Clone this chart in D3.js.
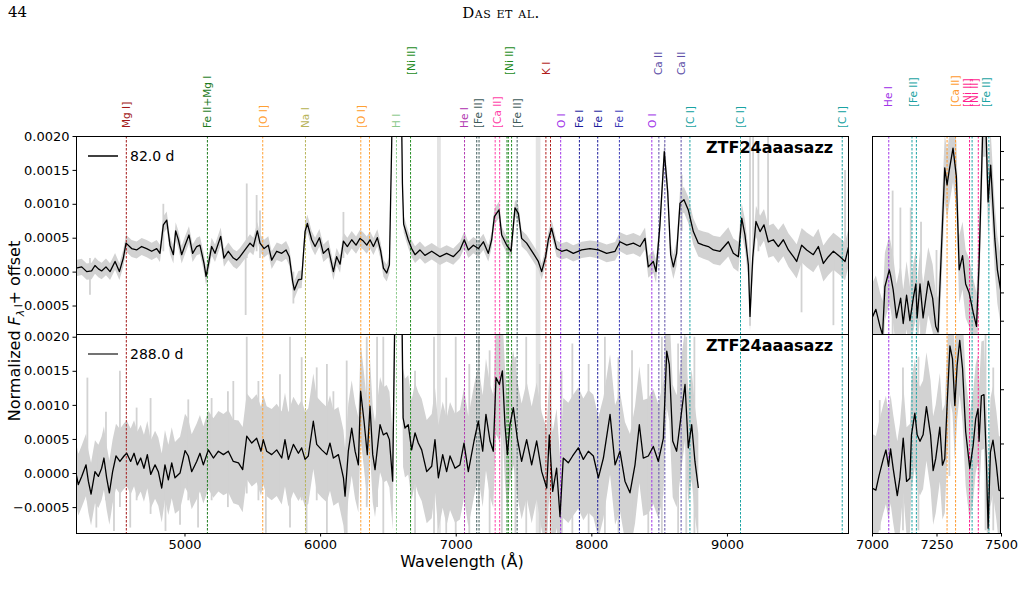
<!DOCTYPE html>
<html>
<head>
<meta charset="utf-8">
<script src="https://cdn.jsdelivr.net/npm/d3@7"></script>
<style>
  body { margin: 0; background: #fff; }
  text { font-family: "DejaVu Sans", sans-serif; }
</style>
</head>
<body>
<div id="chart"></div>
<script>
// ---- Data ----
// smoothed spectrum, 82.0 d  [wavelength (A), normalized flux]
const spec82 = [
  [4200,0.00005],[4242,0.00007],[4279,0.0],[4315,0.00001],[4340,0.00009],[4365,0.00004],[4389,0.00001],
  [4421,0.00007],[4451,0.0],[4488,0.00015],[4520,0.0],[4549,0.0002],[4569,0.00042],[4610,0.00034],
  [4647,0.00032],[4684,0.00037],[4721,0.00034],[4758,0.0003],[4795,0.00034],[4819,0.00027],[4844,0.00069],
  [4869,0.00076],[4893,0.00039],[4918,0.00025],[4935,0.0006],[4955,0.00047],[4979,0.00025],[5004,0.00039],
  [5033,0.00054],[5060,0.00027],[5090,0.00037],[5114,0.00039],[5144,0.00012],[5159,-0.00007],[5176,0.0001],
  [5200,0.00037],[5225,0.00027],[5267,0.00052],[5291,0.0002],[5323,0.0003],[5360,0.0002],[5385,0.00017],
  [5409,0.00022],[5446,0.00032],[5483,0.00042],[5508,0.00037],[5537,0.0006],[5557,0.00042],[5587,0.00034],
  [5618,0.00039],[5643,0.00017],[5680,0.0003],[5717,0.00027],[5749,0.00032],[5773,0.00022],[5798,-0.00015],
  [5810,-0.00027],[5840,-0.00012],[5864,-0.00011],[5889,0.00059],[5906,0.00071],[5938,0.00047],[5963,0.00037],
  [5995,0.0005],[6024,0.00027],[6061,0.00034],[6098,0.0],[6122,0.00022],[6147,0.00011],[6172,0.00045],
  [6201,0.00037],[6233,0.00047],[6265,0.00039],[6294,0.00049],[6319,0.00045],[6344,0.00039],[6368,0.00047],
  [6393,0.00037],[6422,0.0005],[6447,0.0003],[6467,0.00005],[6491,-0.00002],[6511,0.0001],[6528,0.0019],
  [6545,0.0045],[6563,0.0055],[6585,0.004],[6602,0.0021],[6607,0.0013],[6616,0.0007],[6650,0.00047],
  [6675,0.00034],[6700,0.00025],[6736,0.00032],[6773,0.00024],[6823,0.0003],[6884,0.00022],[6933,0.00027],
  [6982,0.00022],[7031,0.00032],[7063,0.00047],[7093,0.00032],[7130,0.00039],[7167,0.00034],[7204,0.00044],
  [7240,0.00027],[7265,0.00047],[7285,0.00081],[7319,0.00091],[7339,0.00054],[7376,0.00039],[7408,0.0003],
  [7437,0.00094],[7462,0.00086],[7486,0.00049],[7523,0.00042],[7572,0.00027],[7609,0.00015],[7634,0.0],
  [7663,0.00022],[7683,0.00047],[7707,0.00064],[7744,0.00034],[7781,0.0003],[7818,0.00032],[7867,0.00027],
  [7929,0.00032],[7990,0.00034],[8052,0.00032],[8113,0.00027],[8175,0.0003],[8211,0.00044],[8261,0.00039],
  [8310,0.00042],[8359,0.00037],[8396,0.00049],[8420,0.00007],[8457,0.00015],[8477,0.0],[8506,0.00069],
  [8538,0.00177],[8563,0.00118],[8585,0.00025],[8605,0.00007],[8629,0.00027],[8654,0.00101],[8683,0.00106],
  [8715,0.00091],[8752,0.00059],[8789,0.00042],[8826,0.00039],[8863,0.00037],[8900,0.00032],[8949,0.0003],
  [9010,0.00044],[9047,0.00027],[9084,0.00022],[9109,0.00079],[9133,0.00054],[9158,0.0001],[9170,-0.00066],
  [9190,0.0002],[9214,0.00074],[9244,0.00059],[9273,0.00069],[9305,0.00044],[9342,0.00047],[9379,0.00037],
  [9416,0.00047],[9453,0.00032],[9490,0.00022],[9514,0.00015],[9551,0.00039],[9588,0.00032],[9637,0.00025],
  [9674,0.00037],[9711,0.00012],[9748,0.00022],[9785,0.0003],[9834,0.00022],[9871,0.00015],[9900,0.00039]
]

// smoothed spectrum, 288.0 d
const spec288 = [
  [4200,0],[4217,-0.00017],[4242,-0.00005],[4274,0.00012],[4291,-0.00012],[4311,-0.00031],[4340,0.00002],
  [4365,-0.00005],[4389,0.00007],[4406,0.00022],[4426,-0.00007],[4446,-0.00029],[4470,0.00002],[4495,0.00025],
  [4524,0.00017],[4554,0.00025],[4574,0.00029],[4603,0.00017],[4628,0.00029],[4652,0.00012],[4677,0.00022],
  [4701,0.00007],[4726,0.00027],[4751,-0.00002],[4783,0.00012],[4807,0.00002],[4832,-0.00022],[4856,0.00012],
  [4881,-0.0001],[4906,0.00015],[4930,-0.00007],[4967,0],[5004,0.00033],[5028,0.00025],[5053,0.00002],
  [5090,0.00017],[5114,0.00029],[5139,0.00012],[5176,0.00034],[5213,0.00022],[5250,0.00032],[5287,0.00027],
  [5323,0.00032],[5360,0.00017],[5398,0.00015],[5429,0.00005],[5459,0.00054],[5496,0.00044],[5532,0.00051],
  [5564,0.00032],[5581,0.00049],[5606,0.00032],[5643,0.00027],[5680,0.00034],[5717,0.00022],[5741,0.00049],
  [5766,0.0002],[5803,0.00042],[5840,0.00029],[5864,0.00037],[5889,0.0002],[5913,0.00025],[5950,0.00076],
  [5975,0.00042],[6012,0.00034],[6049,0.00027],[6073,0.00044],[6098,0.00022],[6135,0.00027],[6172,-0.00007],
  [6184,-0.00034],[6208,0.00032],[6233,0.00066],[6258,0.00032],[6282,0.00012],[6299,0.0012],[6324,0.00076],
  [6348,0.00027],[6368,0.00098],[6388,0.00027],[6405,0.00005],[6442,0.00071],[6466,0.00056],[6491,0.00059],
  [6511,0.00049],[6535,-0.00012],[6552,0.0025],[6570,0.005],[6590,0.0035],[6605,0.0021],[6612,0.00081],
  [6626,0.00066],[6650,0.00071],[6675,0.00034],[6700,0.00059],[6724,0.00044],[6749,0.00034],[6786,0.00002],
  [6823,0.0001],[6847,0.00049],[6872,-0.00007],[6904,0.00027],[6933,0.00002],[6958,0.00025],[6995,0.00007],
  [7031,0.00012],[7061,0.00044],[7093,0.00002],[7135,0.00047],[7167,0.00076],[7199,0.00032],[7223,0.00086],
  [7253,0.00047],[7277,0.00032],[7297,0.0014],[7322,0.0013],[7344,0.0015],[7363,0.00071],[7381,0.00027],
  [7400,0.00071],[7425,0.00096],[7454,0.00051],[7486,0.00017],[7523,0.00049],[7560,0.00012],[7597,0.00047],
  [7634,0.00002],[7671,-0.00022],[7690,0.00056],[7715,-0.00027],[7744,0.00007],[7769,-0.00064],[7793,0.00022],
  [7830,0.00015],[7862,0.00025],[7904,0.00037],[7941,0.0002],[7978,0.00032],[8015,0.00025],[8052,-0.00007],
  [8089,0.00022],[8138,0.00086],[8175,0.00012],[8211,0.00032],[8248,-0.00012],[8285,-0.00029],[8322,0.00012],
  [8354,0.00071],[8383,0.00022],[8420,0.00025],[8457,0.00039],[8494,0.00017],[8531,0.00051],[8556,0.00179],
  [8575,0.00159],[8600,0.00047],[8629,0.00032],[8666,0.00091],[8691,0.0013],[8715,0.00037],[8740,0.00071],
  [8764,0.00017],[8789,-0.00022]
]

// zoomed-in 7000-7500 A views (own flux scales)
const zoom82 = [
  [7000,0.00021],[7015,0.00024],[7031,0.00018],[7041,0.00015],[7050,0.00032],[7067,0.00038],[7072,0.00036],
  [7082,0.00031],[7095,0.00021],[7111,0.00028],[7121,0.00019],[7134,0.00029],[7147,0.0002],[7160,0.00028],
  [7170,0.00033],[7175,0.00021],[7186,0.00033],[7198,0.00021],[7218,0.00034],[7235,0.00028],[7247,0.00018],
  [7256,0.00016],[7282,0.00074],[7291,0.00068],[7299,0.00073],[7314,0.00081],[7327,0.00071],[7338,0.00038],
  [7351,0.00043],[7363,0.00033],[7376,0.0003],[7392,0.00023],[7405,0.00018],[7415,0.0004],[7430,0.0009],
  [7441,0.0009],[7450,0.00062],[7460,0.00075],[7476,0.00049],[7486,0.00038],[7500,0.0003]
]
const zoom288 = [
  [7000,0.00009],[7015,0.00007],[7028,0.00021],[7044,0.00036],[7054,0.00044],[7064,0.00029],[7072,0.00045],
  [7082,0.00027],[7098,0.00002],[7108,0.00018],[7121,0.00055],[7134,0.00015],[7147,0.00018],[7153,0.00058],
  [7166,0.00078],[7175,0.00058],[7186,0.00052],[7198,0.00058],[7211,0.00084],[7227,0.00058],[7237,0.00025],
  [7247,0.00036],[7263,0.00065],[7273,0.0003],[7282,0.00036],[7291,0.00085],[7302,0.0014],[7312,0.00128],
  [7321,0.00085],[7330,0.00122],[7340,0.00145],[7351,0.00119],[7363,0.00061],[7379,0.00027],[7392,0.00048],
  [7402,0.00073],[7411,0.00082],[7415,0.00052],[7424,0.00094],[7434,0.00095],[7443,0.00036],[7450,-0.00028],
  [7459,0.00042],[7469,0.00053],[7482,0.0003],[7492,0.00007],[7500,0.00006]
]

// scatter of the raw (unsmoothed) spectra around the smoothed one
const noiseWave82 = [4200, 5000, 6000, 7000, 8000, 8800, 9900]
const noiseAmp82 = [0.00012, 0.00013, 0.00013, 0.00012, 0.00012, 0.0002, 0.00028]
const noiseWave288 = [4200, 4800, 5400, 5800, 6500, 7000, 8000, 8800]
const noiseAmp288 = [0.00045, 0.0005, 0.00062, 0.0007, 0.0007, 0.0008, 0.0009, 0.0008]
const noiseWaveZoom = [7000, 7500]
const noiseAmpZoom82 = [0.00012, 0.00012]
const noiseAmpZoom288 = [0.0005, 0.0005]

// strongest raw-data spikes [wavelength, low, high]
const spikes82 = [
  [4303,-0.00034,0.0002],[4844,0.0003,0.001],[5451,-0.00064,0.0004],[5459,0.0002,0.0013],[5532,0.0003,0.00113],
  [5557,0.0002,0.0009],[5803,-0.00047,0],[6172,0.0002,0.00088],[8666,0.0006,0.00143],[9170,-0.0008,0.002],
  [9193,0.0003,0.002],[9232,0.0003,0.00177],[9303,0.0003,0.002],[9550,-0.0006,0.0003],[9785,-0.00079,0.0003],
  [9871,0.0001,0.0015]
]
const spikes288 = [
  [4284,-0.0004,0.0014],[4350,-0.0008,0.0003],[4421,-0.0004,0.0009],[4480,-0.00085,0.0002],[4524,-0.0005,0.0015],
  [4600,-0.0008,0.0003],[4647,-0.0004,0.00096],[4750,-0.0006,0.0011],[4860,-0.00085,0.0002],[4967,-0.00076,0.0003],
  [5028,-0.0004,0.00108],[5100,-0.0008,0.0003],[5200,-0.0004,0.0011],[5320,-0.0005,0.0012],[5360,-0.0004,0.00135],
  [5459,-0.0003,0.002],[5545,-0.0004,0.00135],[5600,-0.00088,0.0003],[5704,-0.0004,0.00145],[5778,-0.0008,0.002],
  [5864,-0.0004,0.0017],[5900,-0.00088,0.0002],[5975,-0.0004,0.00155],[6050,-0.0009,0.0016],[6098,-0.0004,0.0012],
  [6196,-0.0009,0.00165],[6344,-0.0005,0.002],[6420,-0.0005,0.002],[6466,-0.0009,0.002],[6700,-0.0009,0.0015],
  [6840,-0.0009,0.002],[6930,-0.0009,0.0014],[7000,-0.0009,0.002],[7100,-0.0009,0.0016],[7170,-0.0005,0.002],
  [7250,-0.0009,0.0018],[7340,-0.0009,0.002],[7440,-0.0009,0.0017],[7520,-0.0009,0.002],[7620,-0.0009,0.0016],
  [7700,-0.0009,0.002],[7780,-0.0009,0.0015],[7860,-0.0009,0.0019],[7980,-0.0009,0.0016],[8100,-0.0009,0.002],
  [8200,-0.0009,0.0017],[8300,-0.0009,0.0018],[8420,-0.0009,0.0016],[8520,-0.0009,0.002],[8640,-0.0009,0.0019],
  [8700,-0.0009,0.002],[8760,-0.0009,0.002]
]
const spikesZoom82 = [[7080,0.00015,0.00066],[7110,0.00015,0.0006],[7150,0.00015,0.0006],[7190,0.00015,0.00055],[7250,0.00015,0.00045]]
const spikesZoom288 = [[7030,-0.0003,0.0009],[7120,-0.0003,0.0012],[7180,-0.0003,0.0013],[7300,0.0002,0.0016],[7440,-0.0003,0.0015],[7470,-0.0003,0.0012]]

// telluric absorption bands [start, end]
const telluric = [[6862, 6890], [7590, 7625]]

// line identifications: [species, wavelength]
const mainLines = [
  ["MgI",4571],["FeMg",5169],["OIf",5577],["NaI",5892],["OIf",6300],["OIf",6364],["HI",6563],["NiII",6667],
  ["HeI",7065],["FeII",7155],["FeII",7172],["CaIIf",7291],["CaIIf",7324],["NiII",7378],["NiII",7388],["NiII",7412],
  ["FeII",7453],["KI",7665],["KI",7699],["OI",7774],["FeI",7912],["FeI",8047],["FeI2",8207],["OI",8446],
  ["CaII",8498],["CaII",8542],["CaII",8662],["CI",8727],["CI",9100],["CI",9850]
]
const mainLabels = [
  ["Mg I]","MgI",4571,0],["Fe II+Mg I","FeMg",5169,0],["[O I]","OIf",5577,0],["Na I","NaI",5892,0],
  ["[O I]","OIf",6300,0],["H I","HI",6563,0],["[Ni II]","NiII",6667,1],["He I","HeI",7058,0],
  ["[Fe II]","FeII",7163,0],["[Ca II]","CaIIf",7305,0],["[Ni II]","NiII",7395,1],["[Fe II]","FeII",7453,0],
  ["K I","KI",7665,1],["O I","OI",7777,0],["Fe I","FeI",7910,0],["Fe I","FeI",8050,0],["Fe I","FeI2",8205,0],
  ["O I","OI",8448,0],["Ca II","CaII",8492,1],["Ca II","CaII",8662,1],["[C I]","CI",8728,0],
  ["[C I]","CI",9098,0],["[C I]","CI",9852,0]
]
const zoomLines = [
  ["HeIz",7065],["FeIIz",7155],["FeIIz",7172],["CaIIz",7291],["CaIIz",7324],["NiIIz",7378],["FeIIz",7388],
  ["NiIIz",7412],["FeIIz",7453]
]
const zoomLabels = [
  ["He I","HeIz",7063],["[Fe II]","FeIIz",7160],["[Ca II]","CaIIz",7322],["[Ni II]","NiIIz",7370],
  ["[Ni II]","NiIIz",7397],["[Fe II]","FeIIz",7443]
]

const epochs = ["82.0 d", "288.0 d"]
const objectName = "ZTF24aaasazz"

// ---- Styles ----
const speciesColor = {
  MgI: "#a31818", FeMg: "#1e7b1e", OIf: "#ffa033", NaI: "#b8b45a", HI: "#8cc98c", NiII: "#228b22",
  HeI: "#b23ab2", FeII: "#3d5a5a", CaIIf: "#ff3fa8", KI: "#b01c1c", OI: "#a235e8", FeI: "#1c1c9c",
  FeI2: "#3a3ab8", CaII: "#5e4fa8", CI: "#1aa3a3",
  HeIz: "#a235e8", FeIIz: "#1aa3a3", CaIIz: "#ff9a2e", NiIIz: "#ff1f8f"
}

// ---- Layout ----
const width = 1024
const height = 601
const mainX = {left: 76, right: 849}
const sideX = {left: 872, right: 1001}
const rowY = {top: 136, mid: 334, bottom: 533}
const labelBase = [128, 75]
const sideLabelBase = 107

const svg = d3.select("#chart")
  .append("svg")
    .attr("width", width)
    .attr("height", height)
    .style("display", "block")

// Header
svg.append("text")
  .attr("x", 8).attr("y", 17)
  .style("font-family", "'DejaVu Serif', serif")
  .style("font-size", "15px")
  .text("44")
svg.append("text")
  .attr("x", 501).attr("y", 18)
  .attr("text-anchor", "middle")
  .style("font-family", "'DejaVu Serif', serif")
  .style("font-size", "15px")
  .style("font-variant", "small-caps")
  .style("letter-spacing", "0.5px")
  .text("Das et al.")

// Scales
const xMain = d3.scaleLinear().domain([4200, 9900]).range([mainX.left, mainX.right])
const xSide = d3.scaleLinear().domain([7000, 7500]).range([sideX.left, sideX.right])
const yTop = d3.scaleLinear().domain([-0.00092, 0.002]).range([rowY.mid, rowY.top])
const yBot = d3.scaleLinear().domain([-0.00088, 0.00204]).range([rowY.bottom, rowY.mid])
const ySideTop = d3.scaleLinear().domain([0.000153, 0.000853]).range([rowY.mid, rowY.top])
const ySideBot = d3.scaleLinear().domain([-0.000325, 0.001509]).range([rowY.bottom, rowY.mid])

const panels = [
  {id: "mt", x: xMain, y: yTop, spec: spec82, nw: noiseWave82, na: noiseAmp82, spikes: spikes82},
  {id: "mb", x: xMain, y: yBot, spec: spec288, nw: noiseWave288, na: noiseAmp288, spikes: spikes288},
  {id: "st", x: xSide, y: ySideTop, spec: zoom82, nw: noiseWaveZoom, na: noiseAmpZoom82, spikes: spikesZoom82},
  {id: "sb", x: xSide, y: ySideBot, spec: zoom288, nw: noiseWaveZoom, na: noiseAmpZoom288, spikes: spikesZoom288},
]

const defs = svg.append("defs")
panels.forEach(p => {
  const [x0, x1] = p.x.range()
  const [y0, y1] = p.y.range()
  defs.append("clipPath").attr("id", "clip-" + p.id)
    .append("rect")
      .attr("x", x0).attr("y", y1)
      .attr("width", x1 - x0).attr("height", y0 - y1)
})
defs.append("clipPath").attr("id", "clip-main")
  .append("rect").attr("x", mainX.left).attr("y", rowY.top)
  .attr("width", mainX.right - mainX.left).attr("height", rowY.bottom - rowY.top)
defs.append("clipPath").attr("id", "clip-side")
  .append("rect").attr("x", sideX.left).attr("y", rowY.top)
  .attr("width", sideX.right - sideX.left).attr("height", rowY.bottom - rowY.top)

// Telluric bands
svg.append("g")
  .attr("clip-path", "url(#clip-main)")
  .selectAll("rect")
  .data(telluric)
  .join("rect")
    .attr("x", d => xMain(d[0]))
    .attr("width", d => xMain(d[1]) - xMain(d[0]))
    .attr("y", rowY.top)
    .attr("height", rowY.bottom - rowY.top)
    .attr("fill", "#e3e3e3")

// Raw data scatter (grey)
const grey = "#d2d2d2"
panels.forEach(p => {
  const noise = d3.scaleLinear().domain(p.nw).range(p.na).clamp(true)
  const g = svg.append("g").attr("clip-path", `url(#clip-${p.id})`)
  const area = d3.area()
    .x(d => p.x(d[0]))
    .y0(d => p.y(d[1] - noise(d[0])))
    .y1(d => p.y(d[1] + noise(d[0])))
  g.append("path")
    .attr("d", area(p.spec))
    .attr("fill", grey)
  g.selectAll("line")
    .data(p.spikes)
    .join("line")
      .attr("x1", d => p.x(d[0])).attr("x2", d => p.x(d[0]))
      .attr("y1", d => p.y(d[1])).attr("y2", d => p.y(d[2]))
      .attr("stroke", grey)
      .attr("stroke-width", 1.8)
})

// Line identification markers
const drawMarkers = (lines, x, clip) => {
  svg.append("g")
    .attr("clip-path", `url(#${clip})`)
    .selectAll("line")
    .data(lines)
    .join("line")
      .attr("x1", d => x(d[1])).attr("x2", d => x(d[1]))
      .attr("y1", rowY.top).attr("y2", rowY.bottom)
      .attr("stroke", d => speciesColor[d[0]])
      .attr("stroke-width", 1)
      .attr("stroke-dasharray", "2.5,1.5")
}
drawMarkers(mainLines, xMain, "clip-main")
drawMarkers(zoomLines, xSide, "clip-side")

svg.append("g")
  .selectAll("text")
  .data(mainLabels)
  .join("text")
    .attr("transform", d => `translate(${xMain(d[2])},${labelBase[d[3]]}) rotate(-90)`)
    .attr("dominant-baseline", "central")
    .attr("fill", d => speciesColor[d[1]])
    .style("font-size", "10.5px")
    .text(d => d[0])

svg.append("g")
  .selectAll("text")
  .data(zoomLabels)
  .join("text")
    .attr("transform", d => `translate(${xSide(d[2])},${sideLabelBase}) rotate(-90)`)
    .attr("dominant-baseline", "central")
    .attr("fill", d => speciesColor[d[1]])
    .style("font-size", "10.5px")
    .text(d => d[0])

// Smoothed spectra (black)
panels.forEach(p => {
  const line = d3.line()
    .x(d => p.x(d[0]))
    .y(d => p.y(d[1]))
  svg.append("g").attr("clip-path", `url(#clip-${p.id})`)
    .append("path")
      .attr("d", line(p.spec))
      .attr("fill", "none")
      .attr("stroke", "#000")
      .attr("stroke-width", 1.3)
      .attr("stroke-linejoin", "round")
})

// Frames
panels.forEach(p => {
  const [x0, x1] = p.x.range()
  const [y0, y1] = p.y.range()
  svg.append("rect")
    .attr("x", x0 + 0.5).attr("y", y1 + 0.5)
    .attr("width", x1 - x0 - 1).attr("height", y0 - y1)
    .attr("fill", "none")
    .attr("stroke", "#000")
    .attr("stroke-width", 1)
})

// Axes
const styleAxis = g => {
  g.select(".domain").remove()
  g.selectAll(".tick line").attr("stroke", "#000")
  g.selectAll(".tick text")
    .attr("fill", "#000")
    .style("font-family", "'DejaVu Sans', sans-serif")
    .style("font-size", "13px")
}
const fluxTicks = [-0.0005, 0, 0.0005, 0.001, 0.0015, 0.002]

svg.append("g")
  .attr("transform", `translate(${mainX.left},0)`)
  .call(d3.axisLeft(yTop).tickValues(fluxTicks).tickFormat(d3.format(".4f")).tickSize(3.5).tickPadding(3))
  .call(styleAxis)
svg.append("g")
  .attr("transform", `translate(${mainX.left},0)`)
  .call(d3.axisLeft(yBot).tickValues(fluxTicks).tickFormat(d3.format(".4f")).tickSize(3.5).tickPadding(3))
  .call(styleAxis)
svg.append("g")
  .attr("transform", `translate(0,${rowY.bottom})`)
  .call(d3.axisBottom(xMain).tickValues([5000, 6000, 7000, 8000, 9000]).tickFormat(d3.format("d")).tickSize(3.5).tickPadding(3))
  .call(styleAxis)

svg.append("g")
  .attr("transform", `translate(${sideX.right},0)`)
  .call(d3.axisRight(ySideTop).tickValues(d3.range(0.0002, 0.00081, 0.0001)).tickFormat("").tickSize(3))
  .call(styleAxis)
svg.append("g")
  .attr("transform", `translate(${sideX.right},0)`)
  .call(d3.axisRight(ySideBot).tickValues([0, 0.0005, 0.001]).tickFormat("").tickSize(3))
  .call(styleAxis)
svg.append("g")
  .attr("transform", `translate(0,${rowY.bottom})`)
  .call(d3.axisBottom(xSide).tickValues([7000, 7250, 7500]).tickFormat(d3.format("d")).tickSize(3.5).tickPadding(3))
  .call(styleAxis)

// Axis labels
svg.append("text")
  .attr("x", 462).attr("y", 567)
  .attr("text-anchor", "middle")
  .style("font-size", "16px")
  .text("Wavelength (Å)")

const yLabel = svg.append("text")
  .attr("transform", "translate(20,331) rotate(-90)")
  .attr("text-anchor", "middle")
  .style("font-size", "16px")
yLabel.append("tspan").text("Normalized ")
yLabel.append("tspan").style("font-style", "italic").text("F")
yLabel.append("tspan").attr("dy", 4).style("font-size", "11px").style("font-style", "italic").text("λ")
yLabel.append("tspan").attr("dy", -4).text(" + offset")

// Legends and object name
const legendY = [156, 354]
epochs.forEach((label, i) => {
  svg.append("line")
    .attr("x1", 88).attr("x2", 118)
    .attr("y1", legendY[i]).attr("y2", legendY[i])
    .attr("stroke", i === 0 ? "#000" : "#444")
    .attr("stroke-width", 1.5)
  svg.append("text")
    .attr("x", 130).attr("y", legendY[i] + 5)
    .style("font-size", "14px")
    .text(label)
  svg.append("text")
    .attr("x", 833).attr("y", legendY[i] - 3)
    .attr("text-anchor", "end")
    .style("font-size", "16px")
    .style("font-weight", "bold")
    .text(objectName)
})
</script>
</body>
</html>
